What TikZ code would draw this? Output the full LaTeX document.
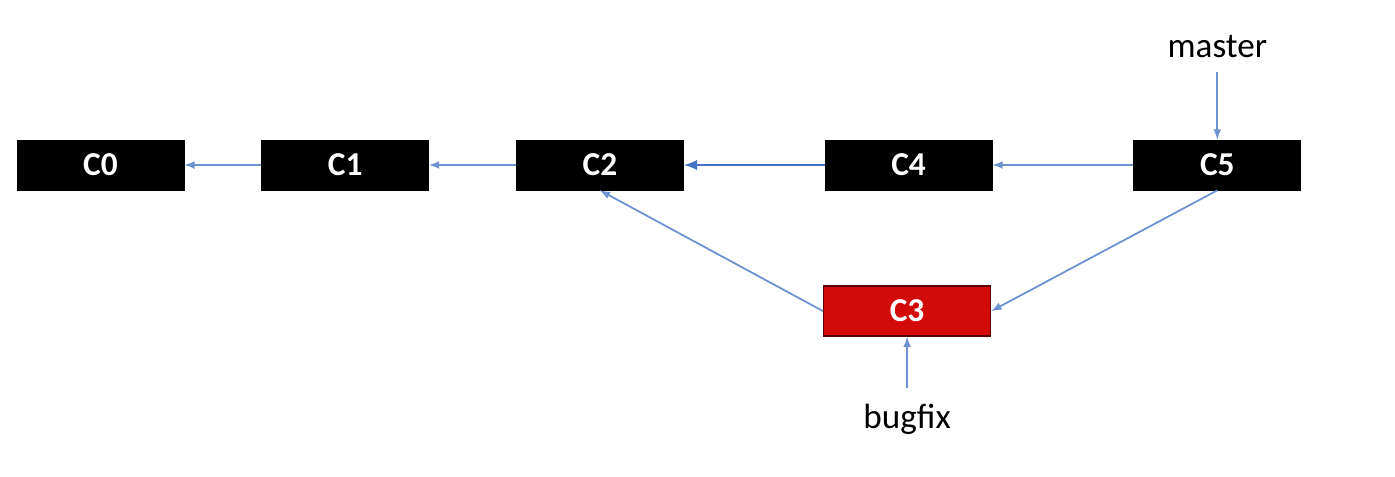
\documentclass[tikz,border=0pt]{standalone}
\usepackage{fontspec}
\setmainfont{Carlito}
\usetikzlibrary{arrows, positioning}
\definecolor{my_blue}{RGB}{110, 145, 210}
\definecolor{my_darkblue}{RGB}{68, 114, 196}
\definecolor{my_red}{RGB}{210, 10, 10}
\definecolor{my_darkred}{RGB}{90, 0, 0}
\tikzset {
  commit/.style = {draw=black, fill=black, text=white, minimum height=1cm, minimum width=3.34cm, inner sep=0pt, font=\fontsize{19}{21}\selectfont\bfseries, rectangle},
  fixcommit/.style = {commit, draw=my_darkred, fill=my_red, line width=0.8pt},
  branch/.style = {inner sep=1pt, font=\fontsize{20}{22}\selectfont},
  line/.style = {->, line width=1pt, color=my_blue, >=latex},
  mainline/.style = {line, line width=1.6pt, color=my_darkblue}
}

\begin{document}
\begin{tikzpicture}

    \useasboundingbox[fill=white] (0,0) rectangle (27.9,-9.54);

    \node[commit, name=c0] (c0) at (2.01,-3.3) {C0};
    \node[commit, name=c1, right=1.54cm of c0] (c1) {C1};
    \node[commit, name=c2, right=1.74cm of c1] (c2) {C2};
    \node[commit, name=c4, right=2.82cm of c2] (c4) {C4};
    \node[commit, name=c5, right=2.82cm of c4] (c5) {C5};

    \node[fixcommit, name=c3, below=1.9cm of c4, xshift=-0.03cm] (c3) {C3};

    \node[branch, name=master, above=1.6cm of c5] (master) {master};
    \node[branch, name=bugfix, below=1.3cm of c3] (bugfix) {bugfix};

    \draw[line] (c1.west) -- (c0.east);
    \draw[line] (c2.west) -- (c1.east);
    \draw[mainline] (c4.west) -- (c2.east);
    \draw[line] (c5.west) -- (c4.east);
    \draw[line] (c3.west) -- (c2.south);
    \draw[line] (c5.south) -- (c3.east);
    \draw[line, shorten <=0.24cm] (master) -- (c5.north);
    \draw[line, shorten <=0.28cm] (bugfix) -- (c3.south);

  \end{tikzpicture}
\end{document}
